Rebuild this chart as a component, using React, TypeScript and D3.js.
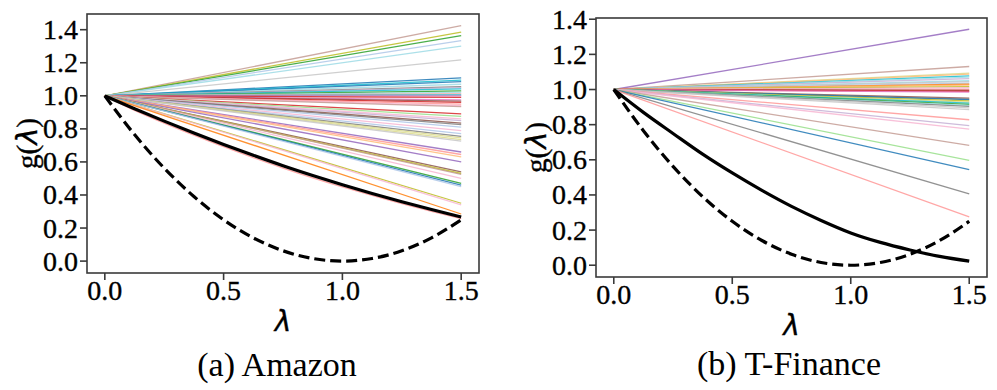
import React from "react";
import * as d3 from "d3";

// tab20 palette
const tab20 = [
  "#1f77b4", "#aec7e8", "#ff7f0e", "#ffbb78", "#2ca02c", "#98df8a", "#d62728", "#ff9896",
  "#9467bd", "#c5b0d5", "#8c564b", "#c49c94", "#e377c2", "#f7b6d2", "#7f7f7f", "#c7c7c7",
  "#bcbd22", "#dbdb8d", "#17becf", "#9edae5",
];

const lambdaStart = 0;
const lambdaEnd = 1.5;

// Amazon: end values of the individual straight lines (start at g(0)=1) and tab20 colour index
const amazonEnds = [
  1.424, 1.386, 1.364, 1.334, 1.3, 1.217, 1.108, 1.095, 1.086, 1.07, 1.056, 1.05, 1.042, 1.03,
  1.02, 1.012, 1.005, 1.0, 0.99, 0.975, 0.968, 0.96, 0.95, 0.94, 0.935, 0.891, 0.875, 0.86,
  0.85, 0.835, 0.826, 0.811, 0.79, 0.771, 0.755, 0.745, 0.735, 0.726, 0.66, 0.645, 0.63, 0.6,
  0.54, 0.53, 0.525, 0.5, 0.47, 0.46, 0.45, 0.35, 0.34, 0.285,
];
const amazonColors = [
  11, 16, 4, 1, 19, 15, 0, 18, 0, 19, 14, 9, 18, 4,
  19, 7, 18, 12, 6, 12, 10, 6, 7, 13, 11, 6, 5, 13,
  9, 10, 14, 1, 13, 1, 14, 17, 17, 15, 8, 7, 3, 8,
  10, 16, 11, 13, 4, 0, 1, 16, 13, 2,
];

// T-Finance
const tfinEnds = [
  1.343, 1.131, 1.093, 1.088, 1.078, 1.07, 1.062, 1.05, 1.045, 1.036, 1.03, 1.025, 1.017, 1.01,
  1.0, 0.995, 0.99, 0.985, 0.951, 0.945, 0.942, 0.935, 0.928, 0.923, 0.915, 0.91, 0.904, 0.895,
  0.885, 0.828, 0.794, 0.775, 0.682, 0.597, 0.544, 0.406, 0.275,
];
const tfinColors = [
  8, 11, 17, 3, 18, 19, 9, 19, 15, 1, 2, 3, 16, 13,
  7, 10, 6, 12, 10, 14, 0, 16, 17, 18, 4, 19, 14, 15,
  15, 7, 9, 13, 11, 5, 0, 14, 7,
];

// Curves sampled at λ = 0, 0.125, ..., 1.5
const curveLambdas = [0, 0.125, 0.25, 0.375, 0.5, 0.625, 0.75, 0.875, 1.0, 1.125, 1.25, 1.375, 1.5];
const dashedValues = [1, 0.7656, 0.5625, 0.3906, 0.25, 0.1406, 0.0625, 0.0156, 0, 0.0156, 0.0625, 0.1406, 0.25];
const amazonBlack = [1, 0.922, 0.847, 0.775, 0.706, 0.64, 0.577, 0.518, 0.462, 0.409, 0.359, 0.312, 0.267];
const amazonSalmon = [1, 0.912, 0.835, 0.762, 0.692, 0.626, 0.563, 0.504, 0.449, 0.397, 0.347, 0.301, 0.257];
const tfinBlack = [1, 0.87, 0.75, 0.632, 0.525, 0.426, 0.335, 0.255, 0.184, 0.13, 0.087, 0.05, 0.023];

const xTicks = [0, 0.5, 1.0, 1.5];
const yTicks = [0, 0.2, 0.4, 0.6, 0.8, 1.0, 1.2, 1.4];

const SERIF = "'Liberation Serif', 'Times New Roman', serif";
const SANS = "'DejaVu Sans', sans-serif";

type PanelProps = {
  left: number;
  right: number;
  top: number;
  bottom: number;
  yDomain: [number, number];
  ends: number[];
  colors: number[];
  black: number[];
  extra?: { values: number[]; color: string };
  caption: string;
  captionX: number;
  xLabelY: number;
  captionY: number;
  yLabelX: number;
};

const textStroke = { stroke: "#000", strokeWidth: 0.35 };

function Panel(p: PanelProps) {
  const x = d3.scaleLinear().domain([-0.075, 1.575]).range([p.left, p.right]);
  const y = d3.scaleLinear().domain(p.yDomain).range([p.bottom, p.top]);
  const line = d3
    .line<[number, number]>()
    .x((d) => x(d[0]))
    .y((d) => y(d[1]));
  const curve = d3
    .line<[number, number]>()
    .x((d) => x(d[0]))
    .y((d) => y(d[1]))
    .curve(d3.curveMonotoneX);
  const tickLen = 7;
  const cx = (p.left + p.right) / 2;
  const cy = (p.top + p.bottom) / 2;
  return (
    <g>
      {p.ends.map((v, i) => (
        <path
          key={i}
          d={line([
            [lambdaStart, 1],
            [lambdaEnd, v],
          ]) || ""}
          stroke={tab20[p.colors[i] % 20]}
          strokeWidth={1.3}
          fill="none"
          opacity={0.85}
        />
      ))}
      {p.extra && (
        <path
          d={curve(curveLambdas.map((l, i) => [l, p.extra!.values[i]] as [number, number])) || ""}
          stroke={p.extra.color}
          strokeWidth={1.3}
          fill="none"
          opacity={0.85}
        />
      )}
      <path
        d={curve(curveLambdas.map((l, i) => [l, p.black[i]] as [number, number])) || ""}
        stroke="#000"
        strokeWidth={3.2}
        fill="none"
      />
      <path
        d={curve(curveLambdas.map((l, i) => [l, dashedValues[i]] as [number, number])) || ""}
        stroke="#000"
        strokeWidth={3.2}
        strokeDasharray="11,5"
        fill="none"
      />
      <rect
        x={p.left}
        y={p.top}
        width={p.right - p.left}
        height={p.bottom - p.top}
        fill="none"
        stroke="#3a3a3a"
        strokeWidth={1.6}
      />
      {xTicks.map((t) => (
        <g key={"x" + t}>
          <line x1={x(t)} x2={x(t)} y1={p.bottom} y2={p.bottom + tickLen} stroke="#3a3a3a" strokeWidth={1.6} />
          <text
            x={x(t)}
            y={p.bottom + 27}
            textAnchor="middle"
            fontFamily={SERIF}
            fontSize={28}
            fill="#000"
            {...textStroke}
          >
            {t.toFixed(1)}
          </text>
        </g>
      ))}
      {yTicks.map((t) => (
        <g key={"y" + t}>
          <line x1={p.left - tickLen} x2={p.left} y1={y(t)} y2={y(t)} stroke="#3a3a3a" strokeWidth={1.6} />
          <text
            x={p.left - 9}
            y={y(t) + 9.5}
            textAnchor="end"
            fontFamily={SERIF}
            fontSize={28}
            fill="#000"
            {...textStroke}
          >
            {t.toFixed(1)}
          </text>
        </g>
      ))}
      <text
        x={cx}
        y={p.xLabelY}
        textAnchor="middle"
        fontFamily={SANS}
        fontStyle="oblique"
        fontSize={28}
        fill="#000"
        {...textStroke}
      >
        λ
      </text>
      <text
        transform={`translate(${p.yLabelX},${cy}) rotate(-90)`}
        textAnchor="middle"
        fontFamily={SERIF}
        fontSize={29}
        fill="#000"
        {...textStroke}
      >
        g(
        <tspan fontFamily={SANS} fontStyle="oblique">
          λ
        </tspan>
        )
      </text>
      <text
        x={p.captionX}
        y={p.captionY}
        textAnchor="middle"
        fontFamily={SERIF}
        fontSize={34}
        fill="#000"
      >
        {p.caption}
      </text>
    </g>
  );
}

export default function App() {
  return (
    <svg
      width={997}
      height={390}
      viewBox="0 0 997 390"
      style={{ position: "absolute", left: 0, top: 0, background: "#fff" }}
    >
      <rect x={0} y={0} width={997} height={390} fill="#fff" />
      <Panel
        left={87}
        right={479}
        top={14}
        bottom={273}
        yDomain={[-0.072, 1.495]}
        ends={amazonEnds}
        colors={amazonColors}
        black={amazonBlack}
        extra={{ values: amazonSalmon, color: "#ff9896" }}
        caption="(a) Amazon"
        captionX={277}
        xLabelY={331}
        captionY={376}
        yLabelX={37}
      />
      <Panel
        left={596}
        right={987}
        top={18}
        bottom={277}
        yDomain={[-0.067, 1.407]}
        ends={tfinEnds}
        colors={tfinColors}
        black={tfinBlack}
        caption="(b) T-Finance"
        captionX={789}
        xLabelY={335}
        captionY={375}
        yLabelX={546}
      />
    </svg>
  );
}
